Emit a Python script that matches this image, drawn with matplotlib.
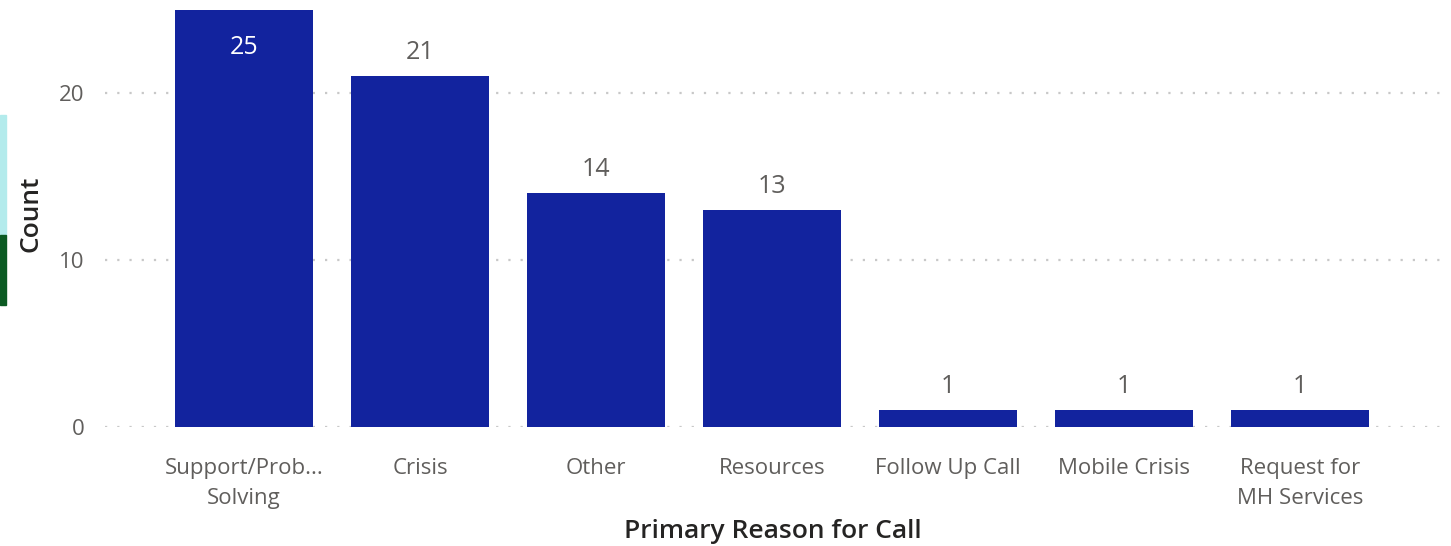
import matplotlib.pyplot as plt
from matplotlib.patches import Rectangle

reasons = ['Support/Prob...\nSolving', 'Crisis', 'Other', 'Resources',
           'Follow Up Call', 'Mobile Crisis', 'Request for\nMH Services']
counts = [25, 21, 14, 13, 1, 1, 1]
yticks = [0, 10, 20]

bar_color = '#12239E'
text_gray = '#605E5C'

plt.rcParams['font.family'] = ['Open Sans', 'DejaVu Sans']

fig = plt.figure(figsize=(14.51, 5.46), dpi=100)
ax = fig.add_axes([105 / 1451, 119 / 546, 1335 / 1451, 427 / 546])

x = list(range(len(reasons)))
bars = ax.bar(x, counts, width=0.784, color=bar_color, zorder=3)

ax.set_xlim(-0.79, 6.795)
ax.set_ylim(0, 25.57)

for xi, c in zip(x, counts):
    if c == max(counts):
        ax.annotate(str(c), (xi, c), xytext=(0, -27), textcoords='offset points',
                    ha='center', va='center', color='white', fontsize=18)
    else:
        ax.annotate(str(c), (xi, c), xytext=(0, 17), textcoords='offset points',
                    ha='center', va='center', color=text_gray, fontsize=18)

ax.set_yticks(yticks)
ax.set_yticklabels([str(t) for t in yticks], fontsize=16, color=text_gray)
ax.yaxis.grid(True, color='#C8C8C8', linestyle=(0, (1, 4.5)), linewidth=1.6, zorder=0)
ax.set_xticks(x)
ax.set_xticklabels(reasons, fontsize=16, color=text_gray, linespacing=1.58)
ax.tick_params(axis='both', length=0)
ax.tick_params(axis='x', pad=22)
ax.tick_params(axis='y', pad=15)
for s in ax.spines.values():
    s.set_visible(False)

ax.set_ylabel('Count', fontsize=19, color='#252423', fontweight='semibold', labelpad=11)
ax.set_xlabel('Primary Reason for Call', fontsize=19, color='#252423',
              fontweight='semibold', labelpad=7)

# slicer strips on the left edge
fig.patches.append(Rectangle((0, 1 - 235 / 546), 6 / 1451, 120 / 546,
                             transform=fig.transFigure, color='#B3EBEC'))
fig.patches.append(Rectangle((0, 1 - 305 / 546), 6 / 1451, 70 / 546,
                             transform=fig.transFigure, color='#0B5A22'))

fig.savefig('out.png', dpi=100)
